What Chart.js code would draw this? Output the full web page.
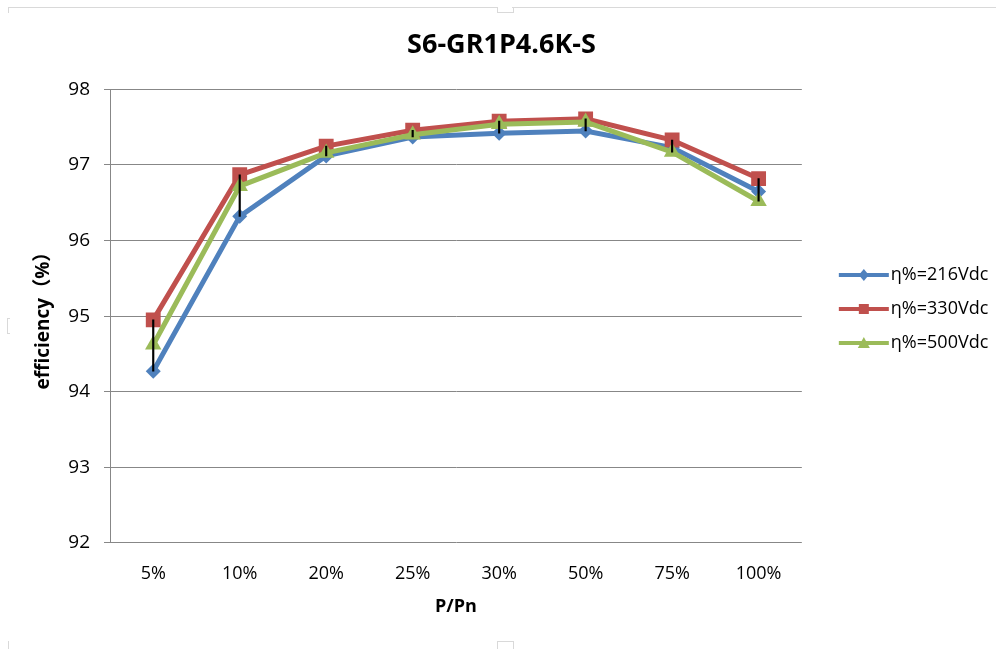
<!DOCTYPE html>
<html><head><meta charset="utf-8">
<script src="https://cdn.jsdelivr.net/npm/chart.js@4/dist/chart.umd.min.js"></script>
<style>
html,body{margin:0;padding:0;background:#fff;}
#wrap{position:relative;width:996px;height:649px;}
canvas{position:absolute;left:0;top:0;}
.f{position:absolute;border-color:#d9d9d9;border-style:solid;border-width:0;}
</style></head>
<body><div id="wrap"><canvas id="c" width="996" height="649"></canvas>
<div class="f" style="left:8px;top:7px;width:489px;height:5px;border-top-width:1px;border-left-width:1px;"></div>
<div class="f" style="left:497px;top:7px;width:15px;height:5px;border-left-width:1px;border-right-width:1px;border-bottom-width:1px;"></div>
<div class="f" style="left:512px;top:7px;width:484px;height:0;border-top-width:1px;"></div>
<div class="f" style="left:7px;top:318px;width:2px;height:14px;border-left-width:1px;border-top-width:1px;border-bottom-width:1px;"></div>
<div class="f" style="left:497px;top:641px;width:15px;height:8px;border-left-width:1px;border-right-width:1px;border-top-width:1px;"></div>
<div class="f" style="left:8px;top:641px;width:0;height:8px;border-left-width:1px;"></div>
</div>
<script>
const categories = ['5%','10%','20%','25%','30%','50%','75%','100%'];
const v216 = [94.27, 96.32, 97.12, 97.37, 97.42, 97.45, 97.23, 96.65];
const v330 = [94.95, 96.87, 97.25, 97.46, 97.58, 97.61, 97.33, 96.82];
const v500 = [94.62, 96.72, 97.16, 97.40, 97.54, 97.57, 97.17, 96.52];
const seriesNames = ['η%=216Vdc','η%=330Vdc','η%=500Vdc'];
const yTicks = [92,93,94,95,96,97,98];

const C_BLUE='#4F81BD', C_RED='#C0504D', C_GREEN='#9BBB59';
const FONT='"Open Sans","Noto Sans CJK SC",sans-serif';
Chart.defaults.font.family = FONT;
Chart.defaults.color = '#000';

const hiLow = categories.map((_, i) => {
  const vals=[v216[i],v330[i],v500[i]];
  return [Math.min(...vals), Math.max(...vals)];
});

const markers = ['rectRot','rect','triangle'];
const colors = [C_BLUE,C_RED,C_GREEN];
const LEG_BW = 40;

const legendMarkers = {
  id:'legendMarkers',
  afterDraw(chart){
    const lg = chart.legend; if(!lg || !lg.legendHitBoxes) return;
    const ctx = chart.ctx;
    lg.legendItems.forEach((it, k) => {
      const hb = lg.legendHitBoxes[k]; if(!hb) return;
      const di = it.datasetIndex;
      const x0 = hb.left + LEG_BW - 43, x1 = hb.left + LEG_BW + 7;
      const cx = (x0+x1)/2, cy = hb.top + hb.height/2;
      ctx.save();
      ctx.strokeStyle = colors[di]; ctx.lineWidth = 4;
      ctx.beginPath(); ctx.moveTo(x0,cy); ctx.lineTo(x1,cy); ctx.stroke();
      ctx.fillStyle = colors[di];
      ctx.beginPath();
      const r=5;
      if(di===0){ ctx.moveTo(cx,cy-r-1); ctx.lineTo(cx+r,cy); ctx.lineTo(cx,cy+r+1); ctx.lineTo(cx-r,cy); }
      else if(di===1){ ctx.rect(cx-r,cy-r,2*r,2*r); }
      else { ctx.moveTo(cx,cy-r-1); ctx.lineTo(cx+r+1,cy+r); ctx.lineTo(cx-r-1,cy+r); }
      ctx.closePath(); ctx.fill(); ctx.restore();
    });
  }
};

const lineDs = (i, ord, radius) => ({
  type:'line', label: seriesNames[i], data: [v216,v330,v500][i],
  borderColor: colors[i], backgroundColor: colors[i], borderWidth: 5,
  pointStyle: markers[i], pointRadius: radius, pointHoverRadius: radius,
  pointBorderWidth: 0, tension: 0, order: ord, fill:false, yAxisID:'y'
});

new Chart(document.getElementById('c'), {
  type:'line',
  data:{
    labels: categories,
    datasets:[
      lineDs(0,3,7.5), lineDs(1,2,10.5), lineDs(2,1,9.5),
      {type:'bar', label:'hilo', data: hiLow, backgroundColor:'#000', barThickness:1.5, order:0, borderWidth:0, yAxisID:'y'}
    ]
  },
  options:{
    responsive:false, animation:false, devicePixelRatio:1,
    layout:{padding:{left:15,right:8,top:0,bottom:31}},
    plugins:{
      title:{display:true, text:'S6-GR1P4.6K-S', font:{size:27, weight:'bold'}, padding:{top:29,bottom:28}},
      legend:{position:'right', align:'center',
        labels:{boxWidth:LEG_BW, boxHeight:4, padding:16, font:{size:18},
          filter:(it)=>it.text!=='hilo',
          sort:(a,b)=>a.datasetIndex-b.datasetIndex,
          generateLabels:(chart)=>chart.data.datasets.map((d,i)=>({text:d.label, fillStyle:'rgba(0,0,0,0)', strokeStyle:'rgba(0,0,0,0)', lineWidth:0, datasetIndex:i, hidden:false}))
        }},
      tooltip:{enabled:false}
    },
    scales:{
      x:{offset:true, grid:{display:false}, border:{display:false},
        ticks:{font:{size:18}, padding:12},
        title:{display:true, text:'P/Pn', font:{size:18, weight:'bold'}, padding:{top:0, bottom:0}}},
      y:{position:'left', min:92, max:98, afterBuildTicks:(s)=>{s.ticks=yTicks.map(v=>({value:v}));},
        grid:{color:'#878787', lineWidth:1, tickLength:6},
        border:{color:'#878787', width:1},
        ticks:{font:{size:19}, padding:14},
        title:{display:true, text:'efficiency（%）', font:{size:19, weight:'bold'}, padding:{top:17, bottom:0}},
        afterFit:(s)=>{s.width=95;}},
      gap:{position:'right', display:true, min:0, max:1,
        grid:{display:false, drawTicks:false}, border:{display:false}, ticks:{display:false},
        afterFit:(s)=>{s.width=24;}}
    }
  },
  plugins:[legendMarkers]
});
</script></body></html>
